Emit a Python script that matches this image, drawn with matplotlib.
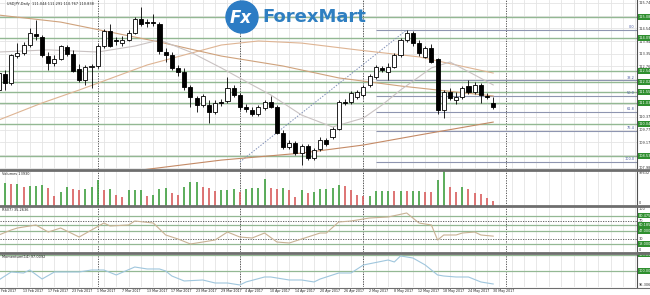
import matplotlib
matplotlib.use("Agg")
import matplotlib.pyplot as plt
import matplotlib.transforms as mtransforms
from matplotlib.patches import Rectangle, Circle
from matplotlib.lines import Line2D
import numpy as np

# ---- data --------------------------------------------------------------
title_text = "USDJPY,Daily  111.044 111.291 110.767 110.838"

# one label every 4 bars, starting with bar 0 (7 Feb 2017)
date_labels = ["7 Feb 2017", "13 Feb 2017", "17 Feb 2017", "23 Feb 2017", "1 Mar 2017",
               "7 Mar 2017", "13 Mar 2017", "17 Mar 2017", "23 Mar 2017", "29 Mar 2017",
               "4 Apr 2017", "10 Apr 2017", "14 Apr 2017", "20 Apr 2017", "26 Apr 2017",
               "2 May 2017", "8 May 2017", "12 May 2017", "18 May 2017", "24 May 2017",
               "30 May 2017"]
month_starts = [16, 39, 59, 82]  # first bar of Mar, Apr, May, Jun

opens = [111.64, 112.39, 111.97, 113.24, 113.38, 113.76, 114.28, 114.14, 113.24, 112.91,
         113.10, 113.67, 113.34, 112.63, 112.11, 112.72, 112.77, 113.71, 114.42, 114.00,
         113.85, 114.00, 114.33, 114.99, 114.84, 114.84, 114.75, 113.43, 113.29, 112.68,
         112.49, 111.78, 111.26, 110.93, 110.93, 110.61, 111.08, 111.12, 111.74, 111.41,
         110.84, 110.70, 110.51, 110.79, 111.08, 110.84, 109.62, 108.96, 109.15, 108.67,
         109.00, 108.44, 108.86, 109.29, 109.43, 109.80, 111.08, 111.08, 111.31, 111.41,
         111.88, 112.25, 112.68, 112.49, 112.72, 113.29, 114.00, 114.33, 113.85, 113.20,
         113.62, 113.10, 110.70, 111.55, 111.17, 111.31, 111.83, 111.55, 111.88, 111.36,
         111.044]
highs = [112.58, 112.58, 113.34, 113.86, 113.90, 114.56, 114.94, 114.23, 113.43, 113.29,
         113.76, 113.76, 113.53, 112.87, 112.82, 112.87, 113.81, 114.51, 114.75, 114.14,
         114.18, 114.47, 115.08, 115.55, 114.99, 115.22, 114.84, 113.62, 113.43, 112.82,
         112.68, 111.88, 111.36, 111.45, 111.17, 111.17, 111.22, 112.25, 111.88, 111.50,
         110.98, 110.84, 110.93, 111.17, 111.36, 110.93, 109.76, 109.29, 109.24, 109.10,
         109.10, 108.91, 109.43, 109.38, 109.90, 111.17, 111.22, 111.59, 111.64, 111.88,
         112.39, 112.82, 112.77, 112.91, 113.38, 114.09, 114.47, 114.42, 114.00, 113.71,
         113.81, 113.15, 111.64, 111.74, 111.55, 111.83, 112.11, 112.02, 111.97, 111.50,
         111.291]
lows = [111.55, 111.64, 111.88, 113.15, 113.29, 113.67, 114.00, 113.20, 112.58, 112.77,
        113.05, 113.24, 112.49, 112.02, 111.88, 111.74, 112.68, 113.62, 113.67, 113.76,
        113.71, 113.95, 114.28, 114.66, 114.61, 114.66, 113.34, 112.96, 112.58, 112.30,
        111.64, 110.84, 110.61, 110.84, 110.09, 110.51, 110.89, 111.03, 111.31, 110.70,
        110.61, 110.42, 110.42, 110.70, 110.79, 109.57, 108.86, 108.86, 108.58, 108.11,
        108.34, 108.34, 108.77, 109.00, 109.33, 109.76, 110.93, 110.98, 111.22, 111.31,
        111.78, 112.16, 112.49, 112.11, 112.68, 113.20, 113.90, 113.71, 113.24, 113.15,
        112.91, 110.51, 110.32, 111.17, 110.98, 111.22, 111.45, 111.45, 111.03, 111.22,
        110.767]
closes = [112.44, 111.97, 113.29, 113.38, 113.76, 114.33, 114.18, 113.29, 112.91, 113.10,
          113.71, 113.34, 112.54, 112.11, 112.72, 112.77, 113.71, 114.42, 113.71, 113.95,
          114.00, 114.33, 114.99, 114.75, 114.80, 114.80, 113.48, 113.29, 112.68, 112.49,
          111.78, 111.31, 110.93, 111.36, 110.61, 111.03, 111.03, 111.74, 111.41, 110.84,
          110.75, 110.51, 110.84, 111.08, 110.84, 109.62, 108.96, 109.15, 108.67, 109.00,
          108.44, 108.82, 109.29, 109.10, 109.80, 111.08, 111.03, 111.50, 111.55, 111.78,
          112.30, 112.72, 112.58, 112.72, 113.29, 114.00, 114.33, 113.85, 113.38, 113.62,
          112.96, 110.70, 111.55, 111.26, 111.31, 111.74, 111.55, 111.88, 111.41, 111.31,
          110.838]
volumes_k = [55, 63, 60, 60, 52, 55, 55, 57, 49, 26,
             37, 52, 46, 43, 46, 52, 72, 43, 46, 29,
             23, 43, 43, 43, 26, 29, 46, 49, 34, 29,
             52, 66, 66, 52, 50, 42, 43, 43, 46, 37,
             46, 49, 49, 75, 49, 46, 49, 43, 23, 43,
             34, 37, 46, 46, 49, 57, 55, 43, 30, 26,
             26, 40, 40, 42, 40, 41, 40, 40, 40, 38,
             37, 72, 97.632, 52, 37, 52, 46, 34, 32, 22,
             13.93]

# moving averages, read at a few bars
ma_fast_bars = [0, 8, 16, 22, 26, 31, 36, 41, 44, 49, 54, 59, 62, 65, 70, 73, 77, 80]
ma_fast_vals = [113.43, 113.53, 113.43, 113.71, 114.00, 113.43, 112.68, 111.88, 111.41,
                110.46, 109.90, 110.32, 110.93, 111.64, 112.68, 112.96, 112.35, 111.88]
ma_50_bars = [0, 10, 18, 26, 36, 46, 55, 65, 71, 80]
ma_50_vals = [115.17, 114.84, 114.37, 113.90, 113.24, 112.77, 112.21, 111.83, 111.64, 111.36]
ma_100_bars = [0, 7, 13, 24, 36, 42, 49, 58, 68, 80]
ma_100_vals = [110.23, 111.03, 111.64, 112.82, 113.76, 113.95, 113.85, 113.53, 113.20, 112.44]
ma_200_bars = [23, 36, 49, 59, 68, 80]
ma_200_vals = [107.87, 108.34, 108.67, 109.05, 109.52, 110.13]

# horizontal support / resistance levels
green_levels = [115.08, 114.09, 112.54, 112.02, 111.55, 111.03, 110.04, 108.53]
price_ticks = [115.740, 115.145, 114.540, 113.945, 113.355, 112.760, 112.155,
               111.570, 110.970, 110.370, 109.770, 109.170, 108.570, 107.985]

# fibonacci retracement
fib_high, fib_low = 114.47, 108.25
fib_low_bar, fib_high_bar, fib_line_start = 39, 66, 61
fib_levels = [0.0, 38.2, 50.0, 61.8, 76.4, 100.0]

# RSI(7)
rsi_bars = [0, 2, 3, 6, 8, 10, 13, 15, 17, 18, 21, 22, 25, 27, 29, 31, 33, 35, 37, 39,
            41, 43, 45, 47, 49, 52, 53, 55, 57, 60, 63, 66, 68, 70, 71, 72, 74, 75, 77, 78, 80]
rsi_vals = [37.8, 48.9, 53.3, 60.0, 44.4, 53.3, 33.3, 48.9, 64.4, 57.8, 60.0, 68.9, 64.4,
            37.8, 28.9, 17.8, 22.2, 26.7, 44.4, 33.3, 31.1, 42.2, 22.2, 20.0, 28.9, 42.2,
            42.2, 66.7, 68.9, 75.6, 77.8, 86.7, 64.4, 60.0, 26.7, 37.8, 37.8, 42.2, 44.4,
            37.8, 35.26]
rsi_green = [80.475, 60.185, 47.0, 18.0]

# Momentum(14)
mom_bars = [0, 2, 4, 5, 7, 9, 13, 15, 17, 19, 22, 24, 26, 27, 28, 30, 33, 35, 37, 39,
            40, 43, 44, 47, 49, 51, 52, 55, 57, 59, 63, 64, 65, 67, 69, 71, 72, 74, 76, 78, 80]
mom_vals = [97.94, 99.81, 99.57, 100.27, 98.17, 99.81, 99.81, 100.27, 100.27, 99.11,
            100.97, 100.51, 100.51, 100.04, 98.87, 97.71, 97.94, 97.24, 97.24, 96.78,
            97.48, 98.64, 98.64, 97.94, 97.94, 97.48, 98.17, 99.57, 99.57, 101.44,
            102.60, 102.14, 103.54, 103.07, 101.44, 99.11, 98.87, 98.64, 98.64, 97.48, 97.01]
mom_green = [103.85, 100.0]

# ---- layout (pixel geometry of the 650x295 picture) ----------------------
W, H = 650.0, 295.0
PLOT_RIGHT = 637.0
X_MIN, X_MAX = 0.19, 103.27
TXT = 2.5
GREEN_LINE = '#93b893'
GREEN_BOX = '#2f8f2f'

fig = plt.figure(figsize=(6.5, 2.95), dpi=100)
fig.patch.set_facecolor('white')


def panel(top, bottom):
    a = fig.add_axes([0, 1 - bottom / H, PLOT_RIGHT / W, (bottom - top) / H])
    a.set_xlim(X_MIN, X_MAX)
    for s in ('left', 'top', 'bottom'):
        a.spines[s].set_visible(False)
    a.spines['right'].set_color('#505050')
    a.spines['right'].set_linewidth(0.8)
    a.set_xticks(np.arange(1, 104, 2))
    a.tick_params(axis='x', length=0, labelbottom=False)
    a.grid(axis='x', color='#e4e4e4', lw=0.6)
    a.set_axisbelow(True)
    a.yaxis.tick_right()
    a.tick_params(axis='y', length=0, labelsize=TXT, pad=1.2, labelcolor='#303030')
    for m in month_starts:
        a.axvline(m, color='#404040', lw=0.6, ls=(0, (1.5, 1.5)), zorder=1)
    return a


def level_box(a, y, text):
    tr = mtransforms.blended_transform_factory(a.transAxes, a.transData)
    a.text(1.003, y, text, transform=tr, fontsize=TXT, color='white', ha='left',
           va='center', clip_on=False, zorder=6,
           bbox=dict(boxstyle='square,pad=0.2', fc=GREEN_BOX, ec='none'))


def corner_label(a, yfrac, text):
    a.text(0.003, yfrac, text, transform=a.transAxes, fontsize=TXT, color='#202020',
           ha='left', va='center')


bars = np.arange(len(closes))

# ---- price panel ---------------------------------------------------------
ax = panel(0, 169)
ax.set_ylim(107.92, 115.88)
ax.set_yticks(price_ticks)
# labels sitting under a green level box are hidden, as in the terminal
ax.set_yticklabels(['' if min(abs(t - g) for g in green_levels) < 0.14 else f"{t:.3f}"
                    for t in price_ticks])
ax.grid(axis='y', color='#e4e4e4', lw=0.6)

for lv in green_levels:
    ax.axhline(lv, color=GREEN_LINE, lw=1.0, zorder=1.5)
    level_box(ax, lv, f"{lv:.3f}")

fib_prices = [fib_high - (fib_high - fib_low) * f / 100 for f in fib_levels]
ax.hlines(fib_prices, fib_line_start, X_MAX, color='#8e95b0', lw=0.8, zorder=1.6)
for f, p in zip(fib_levels, fib_prices):
    ax.text(102.9, p + 0.03, f"{f:.1f}", fontsize=TXT, color='#4858a0', ha='right', va='bottom')
ax.plot([fib_low_bar, fib_high_bar], [fib_low, fib_high], color='#8090b8', lw=0.7,
        ls=(0, (1.5, 1.5)), zorder=1.7)

ax.plot(ma_200_bars, ma_200_vals, color='#c48a66', lw=0.8, zorder=2)
ax.plot(ma_100_bars, ma_100_vals, color='#deb493', lw=0.8, zorder=2)
ax.plot(ma_50_bars, ma_50_vals, color='#cfa27c', lw=0.8, zorder=2)
ax.plot(ma_fast_bars, ma_fast_vals, color='#c9c2c2', lw=0.8, zorder=2)

for x, o, h, l, c in zip(bars, opens, highs, lows, closes):
    ax.vlines(x, l, h, color='black', lw=0.6, zorder=3)
    body = max(abs(c - o), 0.02)
    ax.add_patch(Rectangle((x - 0.33, min(o, c)), 0.66, body,
                           fc='white' if c >= o else 'black', ec='black', lw=0.6, zorder=4))

ax.text(7 / PLOT_RIGHT, 1 - 4 / 169, title_text, transform=ax.transAxes, fontsize=TXT,
        color='#202020', ha='left', va='center')

# ---- volume panel ----------------------------------------------------------
axv = panel(170, 205.5)
vols = np.array(volumes_k) * 1000
vol_colors = ['#3f9f3f' if i == 0 or vols[i] >= vols[i - 1] else '#d85c5c'
              for i in range(len(vols))]
axv.vlines(bars, 0, vols, colors=vol_colors, lw=1.2, zorder=3)
axv.set_ylim(0, 99500)
axv.set_yticks([0, 97632])
axv.set_yticklabels(['0', '97632'])
axv.get_yticklabels()[0].set_va('bottom')
axv.get_yticklabels()[1].set_va('top')
corner_label(axv, 0.89, f"Volumes {int(round(vols[-1]))}")

# ---- RSI panel ---------------------------------------------------------------
axr = panel(207, 252)
axr.set_ylim(0, 100)
axr.set_yticks([0, 30, 70, 100])
axr.set_yticklabels(['0', '30', '70', '100'])
axr.get_yticklabels()[0].set_va('bottom')
axr.get_yticklabels()[3].set_va('top')
for v in (30, 70):
    axr.axhline(v, color='#505050', lw=0.6, ls=(0, (1.5, 1.5)), zorder=1.5)
for v in rsi_green:
    axr.axhline(v, color=GREEN_LINE, lw=0.9, zorder=1.5)
    level_box(axr, v, f"{v:.4f}")
axr.plot(rsi_bars, rsi_vals, color='#c9b295', lw=0.8, zorder=3)
corner_label(axr, 0.93, "RSI(7) 35.2636")

# ---- Momentum panel -----------------------------------------------------------
axm = panel(254, 287)
axm.set_ylim(96.31, 104.0)
axm.set_yticks([96.3064])
axm.set_yticklabels(['96.3064'])
axm.get_yticklabels()[0].set_va('bottom')
for v in mom_green:
    axm.axhline(v, color=GREEN_LINE, lw=0.9, zorder=1.5)
    level_box(axm, v, f"{v:.4f}")
axm.plot(mom_bars, mom_vals, color='#9fc6dd', lw=0.8, zorder=3)
corner_label(axm, 0.91, "Momentum(14) 97.0092")

tr_dates = mtransforms.blended_transform_factory(axm.transData, axm.transAxes)
for k, lab in enumerate(date_labels):
    axm.text(4 * k - 0.1, -0.12, lab, transform=tr_dates, fontsize=2.3, color='#202020',
             ha='left', va='center', clip_on=False)

# panel separators
for ypx, lw in ((169.5, 2.0), (206.2, 2.0), (253.0, 2.0), (287.5, 0.8)):
    fig.add_artist(Line2D([0, 1], [1 - ypx / H] * 2, transform=fig.transFigure,
                          color='#6e6e6e', lw=lw, zorder=10))

# ---- logo overlay ------------------------------------------------------------
logo = fig.add_axes([0, 0, 1, 1])
logo.set_xlim(0, W)
logo.set_ylim(H, 0)
logo.axis('off')
logo.add_patch(Circle((242, 17), 16, color='#2c7cc4'))
logo.text(241, 18, "Fx", color='white', fontsize=12, fontweight='bold', style='italic',
          ha='center', va='center')
logo.text(262, 17, "ForexMart", color='#2f7fc1', fontsize=13, fontweight='bold',
          ha='left', va='center')

fig.savefig("out.png", dpi=100, facecolor='white')
